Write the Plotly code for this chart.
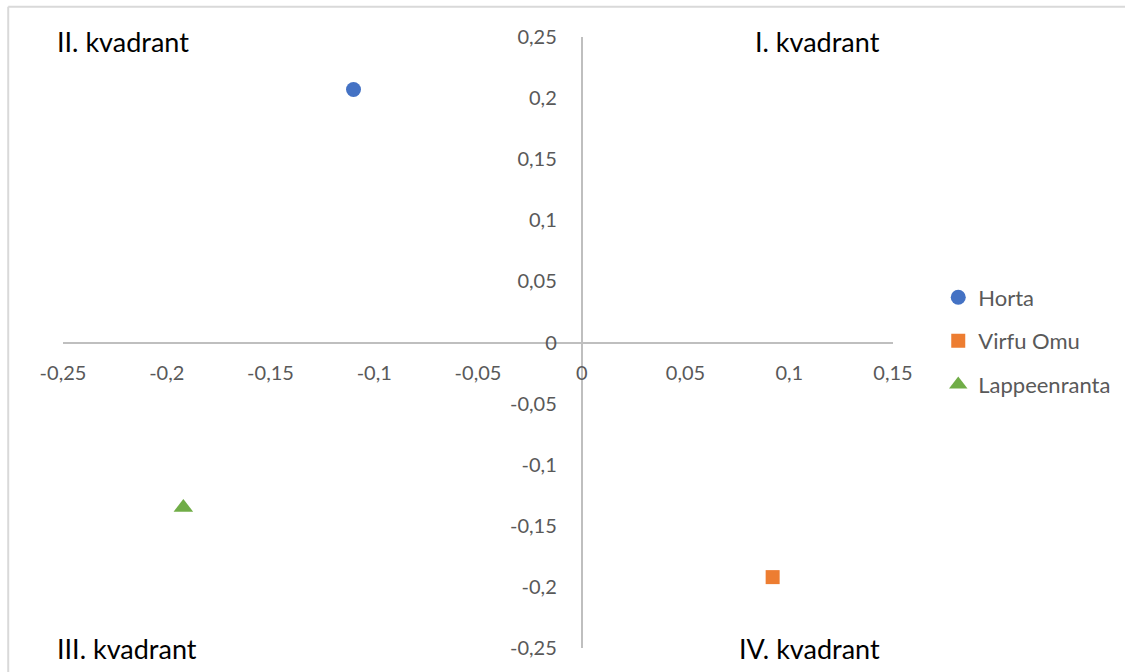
import plotly.graph_objects as go

# ---- data ----
series_names = ["Horta", "Virfu Omu", "Lappeenranta"]
x_values = [-0.110, 0.092, -0.192]
y_values = [0.207, -0.192, -0.135]
marker_symbols = ["circle", "square", "triangle-up"]
marker_colors = ["#4472C4", "#ED7D31", "#70AD47"]
marker_sizes = [15, 14, 17]

x_tickvals = [-0.25, -0.2, -0.15, -0.1, -0.05, 0, 0.05, 0.1, 0.15]
x_ticktext = ["-0,25", "-0,2", "-0,15", "-0,1", "-0,05", "0", "0,05", "0,1", "0,15"]
y_tickvals = [-0.25, -0.2, -0.15, -0.1, -0.05, 0, 0.05, 0.1, 0.15, 0.2, 0.25]
y_ticktext = ["-0,25", "-0,2", "-0,15", "-0,1", "-0,05", "0", "0,05", "0,1", "0,15", "0,2", "0,25"]

quadrant_labels = ["I. kvadrant", "II. kvadrant", "III. kvadrant", "IV. kvadrant"]

FONT = "Lato"
TICK_COLOR = "#595959"
AXIS_COLOR = "#BFBFBF"

fig = go.Figure()
for i, name in enumerate(series_names):
    fig.add_trace(go.Scatter(
        x=[x_values[i]], y=[y_values[i]], mode="markers", name=name,
        legendgroup=name,
        marker=dict(symbol=marker_symbols[i], color=marker_colors[i], size=marker_sizes[i]),
    ))

x_min, x_max = -0.25, 0.15
y_min, y_max = -0.25, 0.25

fig.update_layout(
    width=1125, height=672,
    margin=dict(l=63, r=232, t=37, b=24, autoexpand=False),
    paper_bgcolor="white", plot_bgcolor="white",
    font=dict(family=FONT, color=TICK_COLOR, size=20),
    xaxis=dict(
        range=[x_min, x_max], showgrid=False, zeroline=False,
        anchor="free", position=(0 - y_min) / (y_max - y_min),
        showline=True, linecolor=AXIS_COLOR, linewidth=2,
        tickvals=x_tickvals, ticktext=x_ticktext, ticks="",
        ticklabelstandoff=12,
        tickfont=dict(family=FONT, size=20, color=TICK_COLOR),
    ),
    yaxis=dict(
        range=[y_min, y_max], showgrid=False, zeroline=False,
        anchor="free", position=(0 - x_min) / (x_max - x_min),
        showline=True, linecolor=AXIS_COLOR, linewidth=2,
        tickvals=y_tickvals, ticktext=y_ticktext, ticks="",
        ticklabelstandoff=20,
        tickfont=dict(family=FONT, size=20, color=TICK_COLOR),
    ),
    legend=dict(
        xref="container", yref="container",
        x=0.834, y=0.4926, xanchor="left", yanchor="middle",
        font=dict(family=FONT, size=22, color=TICK_COLOR),
        traceorder="grouped", tracegroupgap=12,
        itemwidth=30, bgcolor="rgba(0,0,0,0)",
    ),
    showlegend=True,
)

# chart frame (left and top edges visible in the picture)
fig.add_shape(type="line", xref="paper", yref="paper",
              x0=-0.066, x1=-0.066, y0=-0.3, y1=1.0494,
              line=dict(color="#D9D9D9", width=2), layer="below")
fig.add_shape(type="line", xref="paper", yref="paper",
              x0=-0.066, x1=1.6, y0=1.0494, y1=1.0494,
              line=dict(color="#D9D9D9", width=2), layer="below")

qfont = dict(family=FONT, size=27, color="black")
fig.add_annotation(text=quadrant_labels[0], xref="paper", yref="paper", x=0.9864, y=0.993,
                   xanchor="right", yanchor="middle", showarrow=False, font=qfont)
fig.add_annotation(text=quadrant_labels[1], xref="paper", yref="paper", x=-0.010, y=0.993,
                   xanchor="left", yanchor="middle", showarrow=False, font=qfont)
fig.add_annotation(text=quadrant_labels[2], xref="paper", yref="paper", x=-0.010, y=-0.001,
                   xanchor="left", yanchor="middle", showarrow=False, font=qfont)
fig.add_annotation(text=quadrant_labels[3], xref="paper", yref="paper", x=0.9864, y=-0.001,
                   xanchor="right", yanchor="middle", showarrow=False, font=qfont)

fig.write_html("out.html",
               config={"displayModeBar": False},
               post_script="document.body.style.margin='0px';document.body.style.overflow='hidden';")
